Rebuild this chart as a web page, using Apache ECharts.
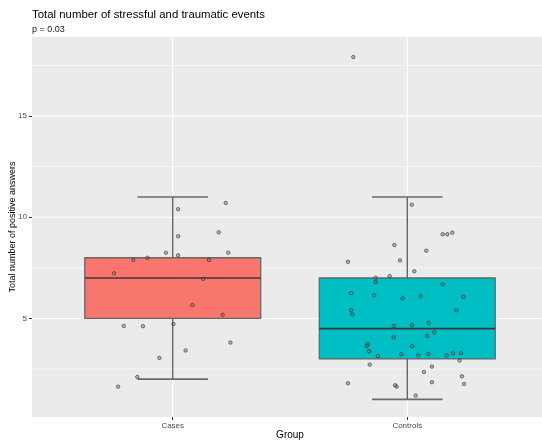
<!DOCTYPE html>
<html>
<head>
<meta charset="utf-8">
<script src="https://cdn.jsdelivr.net/npm/echarts@6/dist/echarts.min.js"></script>
<style>html,body{margin:0;padding:0;background:#fff}#c{width:542px;height:440px}</style>
</head>
<body>
<div id="c"></div>
<script>
// ---- data ----
const categories = ["Cases", "Controls"];
// [lower whisker, Q1, median, Q3, upper whisker]
const casesBox = [2, 5, 7, 8, 11];
const controlsBox = [1, 3, 4.5, 7, 11];
// jittered points: horizontal jitter offset and value
const casesJitter = [0.226,0.023,0.196,0.023,-0.029,0.237,0.023,-0.108,-0.168,0.155,-0.250,0.130,0.084,0.213,-0.209,-0.127,0.003,0.246,0.055,-0.057,-0.151,-0.233];
const casesValues = [10.71,10.40,9.26,9.06,8.25,8.25,8.12,8.00,7.89,7.89,7.23,6.96,5.66,5.18,4.63,4.62,4.72,3.81,3.42,3.05,2.11,1.63];
const controlsJitter = [0.019,0.151,0.171,0.192,-0.055,0.081,-0.253,-0.031,0.030,-0.075,-0.135,-0.135,0.151,-0.240,-0.141,-0.020,0.057,0.239,-0.240,-0.234,0.209,0.091,-0.058,0.020,0.115,0.085,-0.058,-0.169,-0.173,0.021,-0.163,-0.125,-0.026,0.047,0.090,0.168,0.195,0.229,0.223,-0.160,0.105,0.071,0.233,0.105,0.242,-0.253,-0.052,-0.045,0.036,-0.230];
const controlsValues = [10.62,9.16,9.16,9.24,8.63,8.35,7.80,7.87,7.33,7.09,7.01,6.80,6.68,6.25,6.14,5.99,6.10,6.07,5.40,5.20,5.40,4.78,4.63,4.67,4.31,4.14,4.07,3.73,3.64,3.63,3.38,3.15,3.23,3.17,3.25,3.17,3.28,3.28,2.92,2.72,2.62,2.36,2.14,1.85,1.76,1.80,1.70,1.63,1.19,17.92];
const yTicks = [5, 10, 15];
const yMinorTicks = [2.5, 7.5, 12.5, 17.5];
const boxColors = ["#F8766D", "#00BFC4"];

// ---- build ----
const boxData = [[1].concat(casesBox), [2].concat(controlsBox)];
const pts = [];
casesValues.forEach((v, i) => pts.push([1 + casesJitter[i], v]));
controlsValues.forEach((v, i) => pts.push([2 + controlsJitter[i], v]));
// grid lines: [orientation 0=horizontal 1=vertical, value, width]
const gridLines = yMinorTicks.map(v => [0, v, 0.6])
  .concat(yTicks.map(v => [0, v, 1.1]))
  .concat(categories.map((c, i) => [1, i + 1, 1.1]));

const chart = echarts.init(document.getElementById('c'), null, {renderer: 'canvas'});
const X0 = 0.4, X1 = 2.6, Y0 = 0.13, Y1 = 18.91;
const FF = 'Liberation Sans, Arial';
chart.setOption({
  animation: false,
  backgroundColor: '#ffffff',
  title: {
    text: 'Total number of stressful and traumatic events',
    subtext: 'p = 0.03',
    left: 27, top: 4, itemGap: 5,
    textStyle: {fontFamily: FF, fontSize: 11.4, fontWeight: 'normal', color: '#000'},
    subtextStyle: {fontFamily: FF, fontSize: 9, color: '#1a1a1a'}
  },
  grid: {left: 32, top: 37, width: 516, height: 380, show: true, backgroundColor: '#EBEBEB', borderWidth: 0,
    outerBoundsMode: 'none', containLabel: false},
  xAxis: {
    type: 'value', min: X0, max: X1,
    name: 'Group', nameLocation: 'middle', nameGap: 13, nameMoveOverlap: false,
    nameTextStyle: {fontFamily: FF, fontSize: 10, color: '#000'},
    axisLine: {show: false},
    splitLine: {show: false},
    axisTick: {show: true, customValues: [1, 2], length: 3, lineStyle: {color: '#333'}},
    axisLabel: {customValues: [1, 2], formatter: v => categories[Math.round(v) - 1] || '', margin: 5,
      fontFamily: FF, fontSize: 8, color: '#4D4D4D'}
  },
  yAxis: {
    type: 'value', min: Y0, max: Y1,
    name: 'Total number of positive answers', nameLocation: 'middle', nameGap: 15, nameRotate: 90, nameMoveOverlap: false,
    nameTextStyle: {fontFamily: FF, fontSize: 9, color: '#000'},
    axisLine: {show: false},
    splitLine: {show: false},
    axisTick: {show: true, customValues: yTicks, length: 3, lineStyle: {color: '#333'}},
    axisLabel: {customValues: yTicks, margin: 5, fontFamily: FF, fontSize: 8, color: '#4D4D4D'}
  },
  series: [
    {
      type: 'custom', silent: true, z: 1,
      data: gridLines,
      encode: {x: 1},
      renderItem: function (params, api) {
        const kind = api.value(0), val = api.value(1), w = api.value(2);
        let a, b;
        if (kind === 0) { a = api.coord([X0, val]); b = api.coord([X1, val]); }
        else { a = api.coord([val, Y0]); b = api.coord([val, Y1]); }
        return {type: 'line', shape: {x1: a[0], y1: a[1], x2: b[0], y2: b[1]}, style: {stroke: '#ffffff', lineWidth: w}};
      }
    },
    {
      type: 'custom', z: 2,
      data: boxData,
      encode: {x: 0, y: [1, 2, 3, 4, 5]},
      renderItem: function (params, api) {
        const x = api.value(0), lo = api.value(1), q1 = api.value(2), med = api.value(3), q3 = api.value(4), hi = api.value(5);
        const bw = 0.375, cw = 0.15;
        const pLo = api.coord([x, lo]), pHi = api.coord([x, hi]);
        const cL1 = api.coord([x - cw, lo]), cR1 = api.coord([x + cw, lo]);
        const cL2 = api.coord([x - cw, hi]), cR2 = api.coord([x + cw, hi]);
        const bTL = api.coord([x - bw, q3]), bBR = api.coord([x + bw, q1]);
        const mL = api.coord([x - bw, med]), mR = api.coord([x + bw, med]);
        const line = {stroke: '#5a5a5a', lineWidth: 1.3};
        return {type: 'group', children: [
          {type: 'line', shape: {x1: pLo[0], y1: pLo[1], x2: pHi[0], y2: pHi[1]}, style: line},
          {type: 'line', shape: {x1: cL1[0], y1: cL1[1], x2: cR1[0], y2: cR1[1]}, style: {stroke: '#6a6a6a', lineWidth: 1.6}},
          {type: 'line', shape: {x1: cL2[0], y1: cL2[1], x2: cR2[0], y2: cR2[1]}, style: {stroke: '#6a6a6a', lineWidth: 1.6}},
          {type: 'rect', shape: {x: bTL[0], y: bTL[1], width: bBR[0] - bTL[0], height: bBR[1] - bTL[1]},
            style: {fill: boxColors[params.dataIndex], stroke: '#666', lineWidth: 1.3}},
          {type: 'line', shape: {x1: mL[0], y1: mL[1], x2: mR[0], y2: mR[1]}, style: {stroke: '#3a3a3a', lineWidth: 1.6}}
        ]};
      }
    },
    {
      type: 'scatter', z: 3, silent: true,
      data: pts,
      symbol: 'circle', symbolSize: 3.5,
      itemStyle: {color: 'rgba(120,120,120,0.6)', borderColor: 'rgba(30,30,30,0.75)', borderWidth: 0.9}
    }
  ]
});
</script>
</body>
</html>
